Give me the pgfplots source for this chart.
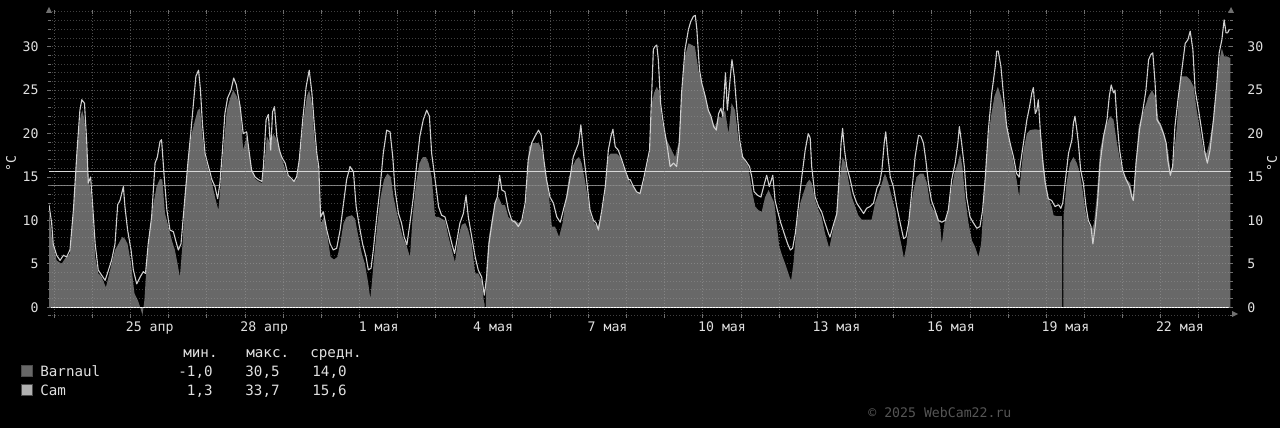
\documentclass[border=0pt]{standalone}
\usepackage{fontspec}
\setmainfont{DejaVu Sans Mono}
\usepackage{pgfplots}
\usepackage{pgfplotstable}
\pgfplotsset{compat=1.18}
\definecolor{areac}{HTML}{686868}
\definecolor{camc}{HTML}{D0D0D0}
\definecolor{gridc}{HTML}{A0A0A0}
\definecolor{txtc}{HTML}{E0E0E0}
\definecolor{tickc}{HTML}{707070}
\definecolor{avgcam}{HTML}{D8D8D8}
\definecolor{avgbar}{HTML}{7C7C7C}
\definecolor{wmc}{HTML}{555555}

\pgfplotstableread{
x y
-0.14 11.8
-0.07 9.7
-0.03 7.3
0.06 6.0
0.15 5.4
0.24 6.0
0.32 5.8
0.41 6.6
0.50 11.2
0.59 17.7
0.67 22.7
0.72 23.9
0.79 23.5
0.85 18.9
0.89 14.3
0.95 15.0
1.00 12.0
1.07 7.3
1.15 4.3
1.24 3.7
1.33 3.1
1.42 4.3
1.50 5.4
1.59 7.3
1.66 11.8
1.72 12.3
1.81 13.9
1.85 11.6
1.92 8.9
2.01 6.6
2.07 4.3
2.16 2.7
2.25 3.5
2.33 4.1
2.39 3.9
2.46 7.3
2.55 10.4
2.64 16.6
2.70 17.3
2.77 19.1
2.81 19.3
2.88 15.0
2.95 11.2
3.03 8.9
3.12 8.7
3.18 7.7
3.25 6.6
3.32 7.3
3.41 12.0
3.50 16.6
3.57 19.8
3.63 22.7
3.71 26.6
3.78 27.3
3.83 25.0
3.88 21.2
3.95 17.7
4.04 16.2
4.13 14.7
4.21 13.9
4.28 12.5
4.34 14.3
4.40 17.7
4.47 22.3
4.54 24.1
4.63 25.0
4.70 26.4
4.77 25.6
4.87 23.1
4.95 20.0
5.04 20.2
5.10 18.1
5.17 15.8
5.26 15.0
5.35 14.7
5.44 14.5
5.48 16.2
5.55 21.6
5.61 22.2
5.67 18.1
5.72 22.5
5.77 23.1
5.83 19.7
5.90 18.1
5.96 17.3
6.05 16.6
6.13 15.2
6.22 14.8
6.28 14.5
6.35 15.0
6.42 17.0
6.51 21.6
6.60 25.4
6.68 27.3
6.75 24.7
6.81 21.2
6.88 17.7
6.93 16.2
6.98 10.4
7.05 11.0
7.14 8.9
7.23 7.3
7.31 6.6
7.40 6.8
7.49 8.9
7.58 12.0
7.66 14.7
7.75 16.2
7.84 15.6
7.91 11.6
7.98 9.7
8.08 7.3
8.17 5.8
8.23 4.3
8.30 4.5
8.36 6.6
8.45 10.4
8.54 13.9
8.62 17.7
8.71 20.4
8.80 20.2
8.87 17.3
8.93 13.5
9.02 10.8
9.10 9.7
9.17 8.1
9.24 7.2
9.32 9.7
9.41 12.7
9.50 16.6
9.58 19.7
9.67 21.6
9.76 22.7
9.83 22.0
9.89 17.7
9.98 14.7
10.07 11.6
10.15 10.6
10.24 10.4
10.33 8.9
10.42 7.3
10.49 6.2
10.55 7.7
10.63 9.7
10.72 10.8
10.79 12.9
10.85 10.4
10.94 8.1
11.03 5.8
11.11 4.3
11.20 3.5
11.27 1.4
11.33 3.5
11.39 7.3
11.47 9.7
11.55 12.0
11.61 12.7
11.67 15.2
11.73 13.5
11.81 13.3
11.90 11.2
11.99 10.0
12.08 9.8
12.16 9.3
12.25 10.0
12.34 12.0
12.42 17.0
12.51 18.9
12.60 19.7
12.69 20.4
12.76 19.8
12.82 17.3
12.90 14.7
12.99 12.7
13.08 12.0
13.17 10.4
13.26 9.8
13.34 11.2
13.43 12.7
13.52 15.0
13.60 17.3
13.67 18.1
13.74 18.9
13.80 21.0
13.87 17.7
13.96 14.3
14.04 11.2
14.13 10.0
14.20 9.7
14.26 8.9
14.35 11.2
14.44 13.9
14.52 18.1
14.59 19.7
14.64 20.5
14.70 18.5
14.78 18.1
14.87 17.0
14.96 15.8
15.05 14.7
15.09 14.7
15.18 13.9
15.26 13.3
15.35 13.1
15.44 14.7
15.53 16.6
15.60 18.1
15.64 22.7
15.70 29.7
15.74 30.0
15.79 30.2
15.83 28.5
15.89 23.5
15.96 21.2
16.05 18.9
16.14 16.2
16.23 16.6
16.31 16.2
16.38 18.9
16.44 24.7
16.53 29.7
16.62 32.0
16.68 32.9
16.75 33.5
16.80 33.6
16.84 32.0
16.91 27.3
16.97 25.8
17.06 24.3
17.14 22.7
17.21 22.0
17.28 20.8
17.35 20.4
17.41 22.3
17.47 22.9
17.52 22.0
17.59 27.0
17.64 22.7
17.71 26.2
17.76 28.5
17.82 26.6
17.89 22.7
17.96 19.3
18.04 17.3
18.13 16.8
18.22 16.2
18.28 15.0
18.34 13.3
18.43 12.9
18.52 12.7
18.59 13.9
18.67 15.2
18.74 13.9
18.83 15.2
18.89 12.3
18.95 11.2
19.04 9.7
19.13 8.5
19.22 7.3
19.29 6.6
19.35 6.8
19.42 8.5
19.50 11.6
19.59 15.0
19.68 18.1
19.76 20.0
19.81 19.5
19.85 16.2
19.94 12.7
20.03 11.6
20.11 11.0
20.20 9.7
20.29 8.5
20.33 8.1
20.42 9.5
20.51 10.8
20.57 15.0
20.62 18.9
20.66 20.6
20.71 18.1
20.77 16.2
20.86 14.7
20.94 13.1
21.03 12.0
21.12 11.4
21.21 10.8
21.29 11.4
21.38 11.6
21.47 12.0
21.56 13.7
21.63 14.3
21.69 15.8
21.75 18.9
21.79 20.2
21.85 17.3
21.91 15.0
21.99 13.9
22.08 11.6
22.17 9.7
22.26 7.9
22.32 8.1
22.39 9.7
22.47 13.1
22.56 17.3
22.65 19.8
22.71 19.7
22.78 18.9
22.84 17.0
22.91 14.3
22.99 12.3
23.08 11.2
23.17 10.0
23.26 9.8
23.35 10.0
23.43 11.2
23.52 14.7
23.61 16.6
23.68 18.9
23.72 20.8
23.78 18.9
23.85 16.2
23.91 12.7
24.00 10.4
24.09 9.7
24.18 9.1
24.26 9.3
24.33 11.2
24.40 15.0
24.48 20.4
24.57 24.7
24.66 27.7
24.70 29.5
24.74 29.5
24.81 27.7
24.88 24.3
24.96 20.8
25.05 18.9
25.14 17.3
25.22 15.4
25.29 15.0
25.31 16.2
25.40 18.9
25.49 21.6
25.56 23.1
25.62 24.7
25.66 25.3
25.71 22.3
25.75 22.7
25.79 23.9
25.84 20.4
25.91 16.6
25.97 14.3
26.05 12.5
26.14 12.3
26.23 11.6
26.32 11.8
26.38 11.4
26.43 12.0
26.49 14.3
26.58 17.7
26.67 19.3
26.71 21.2
26.75 22.0
26.80 20.4
26.84 18.9
26.90 15.8
26.97 14.3
27.04 11.6
27.10 10.0
27.17 9.3
27.22 7.3
27.28 9.3
27.34 12.0
27.41 16.6
27.50 19.7
27.59 21.6
27.65 24.3
27.70 25.6
27.76 24.7
27.80 25.0
27.85 21.6
27.92 18.1
28.00 15.8
28.09 14.7
28.18 13.9
28.24 12.7
28.28 12.3
28.35 16.6
28.44 20.4
28.53 22.7
28.61 25.0
28.68 28.5
28.74 29.1
28.79 29.3
28.85 25.8
28.90 21.6
28.98 21.0
29.07 20.0
29.14 18.9
29.18 17.0
29.25 15.2
29.31 16.2
29.37 20.8
29.46 24.3
29.55 27.3
29.64 30.4
29.71 30.8
29.77 31.8
29.84 29.7
29.90 25.0
29.99 22.7
30.07 20.4
30.16 17.7
30.22 16.6
30.29 18.1
30.38 21.6
30.46 25.4
30.53 29.3
30.60 30.8
30.66 33.1
30.71 31.6
30.75 31.6
30.80 32.0
}\camtable

\pgfplotstableread{
x y
-0.14 11.2
-0.07 8.1
0.06 5.4
0.19 5.0
0.28 5.6
0.41 6.2
0.50 10.8
0.59 17.3
0.67 21.6
0.73 22.7
0.79 21.6
0.85 18.1
0.89 15.0
0.95 13.5
1.00 11.2
1.07 5.8
1.15 3.9
1.24 3.5
1.35 2.3
1.42 3.5
1.50 5.0
1.59 6.6
1.68 7.3
1.78 8.1
1.85 7.9
1.92 7.3
2.01 5.0
2.10 1.6
2.19 0.8
2.25 0.0
2.31 -0.9
2.36 0.8
2.42 5.0
2.51 8.9
2.60 12.0
2.68 13.9
2.77 14.8
2.83 14.7
2.90 10.8
2.99 9.3
3.08 7.7
3.16 6.6
3.23 5.0
3.29 3.5
3.36 7.3
3.43 13.1
3.51 17.3
3.60 20.0
3.69 21.6
3.76 22.7
3.82 22.9
3.88 19.7
3.95 17.3
4.04 15.8
4.13 14.3
4.21 12.7
4.30 11.2
4.37 14.7
4.43 18.1
4.52 22.7
4.61 24.1
4.69 25.0
4.78 24.3
4.87 23.1
4.95 18.1
5.04 19.7
5.10 18.1
5.17 15.8
5.26 14.8
5.35 14.5
5.44 14.3
5.50 16.2
5.57 19.7
5.65 18.9
5.74 20.0
5.83 19.3
5.92 17.7
6.00 16.6
6.09 15.4
6.18 14.8
6.27 14.5
6.35 14.7
6.44 17.3
6.53 21.6
6.62 24.3
6.68 25.0
6.75 23.5
6.81 19.7
6.89 17.0
6.95 14.3
6.99 9.7
7.07 10.4
7.16 8.1
7.24 5.8
7.33 5.5
7.42 5.8
7.49 7.3
7.58 9.7
7.66 10.4
7.80 10.6
7.88 10.2
7.97 8.1
8.06 6.2
8.14 5.0
8.23 2.7
8.28 1.0
8.32 2.7
8.38 5.8
8.47 9.7
8.55 12.7
8.64 14.7
8.73 15.4
8.82 15.0
8.89 12.7
8.96 11.2
9.04 9.7
9.13 8.1
9.24 7.0
9.32 5.8
9.39 10.4
9.48 14.3
9.57 16.6
9.66 17.3
9.74 17.3
9.81 16.6
9.89 15.0
9.98 10.4
10.07 10.4
10.15 10.2
10.24 10.0
10.33 8.1
10.42 6.6
10.50 5.2
10.59 8.1
10.68 9.5
10.77 9.7
10.85 8.9
10.94 7.3
11.03 3.9
11.11 3.9
11.20 3.1
11.26 0.6
11.275 0.4
11.277 0.0
11.31 0.0
11.312 3.0
11.33 5.0
11.39 8.1
11.46 10.0
11.55 12.0
11.64 12.7
11.73 11.8
11.81 11.8
11.90 10.4
11.99 10.0
12.08 10.0
12.16 9.7
12.27 10.0
12.36 12.0
12.44 18.5
12.53 18.9
12.62 18.9
12.70 18.9
12.78 18.1
12.86 15.8
12.95 13.5
13.04 9.3
13.12 9.3
13.23 8.1
13.32 9.7
13.40 12.3
13.49 15.0
13.58 16.2
13.67 17.0
13.75 17.3
13.82 16.6
13.89 15.0
13.98 12.7
14.07 10.4
14.15 9.7
14.24 9.3
14.33 10.4
14.42 12.7
14.51 17.3
14.58 17.7
14.65 17.7
14.74 17.7
14.83 17.3
14.91 16.2
15.00 15.4
15.09 14.3
15.18 13.9
15.26 13.3
15.35 13.1
15.44 14.3
15.53 16.2
15.60 17.7
15.66 23.5
15.72 24.7
15.79 25.4
15.86 24.7
15.92 21.6
16.01 19.7
16.09 18.9
16.18 18.1
16.27 17.3
16.36 18.9
16.44 24.3
16.53 28.9
16.62 30.4
16.71 30.2
16.79 30.0
16.88 27.3
16.97 25.8
17.06 24.3
17.14 22.7
17.23 21.6
17.32 20.8
17.41 22.0
17.49 21.8
17.58 22.7
17.67 20.0
17.75 23.5
17.84 22.7
17.93 19.3
18.02 17.7
18.10 16.8
18.19 16.2
18.28 13.5
18.37 11.6
18.45 11.2
18.54 11.0
18.63 12.7
18.72 13.5
18.80 12.7
18.87 12.0
18.93 9.7
19.00 7.0
19.09 5.8
19.18 4.7
19.27 3.5
19.31 3.1
19.37 5.0
19.46 9.7
19.55 12.0
19.63 13.1
19.72 14.3
19.79 14.7
19.85 14.3
19.94 12.3
20.03 11.2
20.11 10.4
20.20 8.5
20.31 6.8
20.39 8.5
20.48 10.4
20.57 14.3
20.66 17.3
20.73 16.6
20.81 14.7
20.90 12.7
20.99 11.6
21.07 10.6
21.16 10.1
21.29 10.1
21.42 10.1
21.51 12.0
21.60 13.1
21.69 14.3
21.77 15.4
21.86 14.3
21.95 12.7
22.04 11.2
22.12 8.9
22.21 7.0
22.27 5.6
22.34 7.3
22.43 11.2
22.52 13.5
22.60 15.0
22.69 15.4
22.78 15.4
22.87 14.3
22.95 12.0
23.04 11.2
23.13 10.8
23.22 9.3
23.26 7.3
23.33 9.7
23.42 10.8
23.51 13.5
23.59 15.4
23.68 16.6
23.74 17.7
23.80 16.2
23.87 12.7
23.96 9.7
24.05 7.7
24.13 7.0
24.22 5.8
24.29 7.3
24.38 13.5
24.46 18.9
24.55 22.0
24.64 24.3
24.73 25.4
24.81 24.3
24.90 22.7
24.99 20.4
25.08 18.1
25.16 16.2
25.22 14.7
25.29 12.7
25.31 14.3
25.40 18.1
25.49 20.0
25.57 20.4
25.71 20.5
25.84 20.4
25.91 17.3
25.99 14.3
26.05 12.7
26.14 11.6
26.19 10.6
26.27 10.5
26.41 10.5
26.412 0.0
26.448 0.0
26.45 10.6
26.46 10.8
26.53 14.3
26.62 16.6
26.71 17.3
26.80 16.6
26.88 15.4
26.95 13.5
27.02 11.2
27.10 9.7
27.19 8.9
27.25 9.7
27.32 12.7
27.41 18.1
27.50 20.0
27.59 21.2
27.67 22.0
27.76 21.6
27.85 18.9
27.93 17.0
28.02 15.4
28.11 14.7
28.20 14.3
28.27 12.7
28.33 15.8
28.42 20.8
28.50 22.0
28.59 23.1
28.68 24.3
28.77 25.0
28.85 24.3
28.94 21.6
29.03 20.8
29.11 19.7
29.20 17.7
29.26 15.4
29.33 17.0
29.42 20.8
29.51 26.6
29.59 26.6
29.68 26.6
29.77 26.2
29.86 25.4
29.94 22.7
30.03 20.4
30.12 18.1
30.20 17.7
30.27 18.9
30.36 21.2
30.45 25.0
30.54 28.5
30.60 29.8
30.66 28.9
30.73 28.9
30.82 28.7
}\bartable

\newcommand{\tickfont}{\fontsize{6.6pt}{7pt}\selectfont}
\newcommand{\legfont}{\fontsize{7.1pt}{8pt}\selectfont}

\pgfplotsset{rrdbase/.style={
  at={(24.5pt,56pt)}, anchor=south west,
  scale only axis, width=591pt, height=152pt,
  xmin=-0.14, xmax=30.84, ymin=-1, ymax=34,
  axis line style={draw=none},
  /pgf/number format/assume math mode=true,
}}

\begin{document}
\begin{tikzpicture}
\fill[black] (0pt,0pt) rectangle (640pt,214pt);
\useasboundingbox (0pt,0pt) rectangle (640pt,214pt);

\begin{axis}[
  rrdbase,
  axis on top,
  xtick={0,1,...,30}, xticklabels={},
  extra x ticks={2.5,5.5,8.5,11.5,14.5,17.5,20.5,23.5,26.5,29.5},
  extra x tick labels={25 апр,28 апр,1 мая,4 мая,7 мая,10 мая,13 мая,16 мая,19 мая,22 мая},
  extra x tick style={major tick length=0pt, xmajorgrids=false,
     xticklabel style={font=\tickfont, text=txtc, anchor=north, inner sep=0pt, yshift=-2.8pt}},
  ytick={0,5,...,30},
  minor ytick={-1,1,2,3,4,6,7,8,9,11,12,13,14,16,17,18,19,21,22,23,24,26,27,28,29,31,32,33,34},
  xmajorgrids, ymajorgrids, yminorgrids,
  major grid style={draw=gridc, draw opacity=0.5, line width=0.5pt, dash pattern=on 0.5pt off 1pt},
  minor grid style={draw=gridc, draw opacity=0.4, line width=0.5pt, dash pattern=on 0.5pt off 1pt},
  tick style={draw=tickc, line width=0.5pt},
  major tick length=2pt, minor tick length=1.5pt,
  tick align=center,
  yticklabel style={font=\tickfont, text=txtc, anchor=east, inner sep=0pt, xshift=-4pt},
]
\addplot[fill=areac, draw=none] table[x=x,y=y] {\bartable} \closedcycle;
\addplot[draw=white, line width=0.8pt] coordinates {(-0.14,0) (30.84,0)};
\addplot[draw=avgbar, line width=0.6pt] coordinates {(-0.14,14.0) (30.84,14.0)};
\addplot[draw=avgcam, line width=0.6pt] coordinates {(-0.14,15.6) (30.84,15.6)};
\addplot[draw=camc, line width=0.55pt, line join=round] table[x=x,y=y] {\camtable};
\end{axis}

\begin{axis}[
  rrdbase,
  xtick=\empty,
  ytick={0,5,...,30},
  yticklabel pos=right,
  tick style={draw=none},
  yticklabel style={font=\tickfont, text=txtc, anchor=west, inner sep=0pt, xshift=8pt},
]
\addplot[draw=none] coordinates {(0,0)};
\end{axis}

% axis arrows
\fill[tickc] (23pt,207.5pt) -- (26pt,207.5pt) -- (24.5pt,210.5pt) -- cycle;
\fill[tickc] (614pt,207.5pt) -- (617pt,207.5pt) -- (615.5pt,210.5pt) -- cycle;
\fill[tickc] (616pt,58.5pt) -- (616pt,55.5pt) -- (619pt,57pt) -- cycle;

% unit labels
\node[rotate=90, font=\tickfont, text=txtc] at (5.5pt,132pt) {°C};
\node[rotate=90, font=\tickfont, text=txtc] at (636pt,132pt) {°C};

% legend
\node[anchor=base west, inner sep=0pt, font=\legfont, text=txtc] at (91.5pt,35pt) {мин.};
\node[anchor=base west, inner sep=0pt, font=\legfont, text=txtc] at (123pt,35pt) {макс.};
\node[anchor=base west, inner sep=0pt, font=\legfont, text=txtc] at (155pt,35pt) {средн.};

\filldraw[fill=areac, draw=black!70!white, line width=0.5pt] (10.5pt,25.5pt) rectangle (16pt,31pt);
\node[anchor=base west, inner sep=0pt, font=\legfont, text=txtc] at (20pt,25.75pt) {Barnaul};
\node[anchor=base east, inner sep=0pt, font=\legfont, text=txtc] at (106.5pt,25.75pt) {-1,0};
\node[anchor=base east, inner sep=0pt, font=\legfont, text=txtc] at (140pt,25.75pt) {30,5};
\node[anchor=base east, inner sep=0pt, font=\legfont, text=txtc] at (173.5pt,25.75pt) {14,0};

\filldraw[fill=camc!85!black, draw=black!70!white, line width=0.5pt] (10.5pt,16pt) rectangle (16pt,21.5pt);
\node[anchor=base west, inner sep=0pt, font=\legfont, text=txtc] at (20pt,16.25pt) {Cam};
\node[anchor=base east, inner sep=0pt, font=\legfont, text=txtc] at (106.5pt,16.25pt) {1,3};
\node[anchor=base east, inner sep=0pt, font=\legfont, text=txtc] at (140pt,16.25pt) {33,7};
\node[anchor=base east, inner sep=0pt, font=\legfont, text=txtc] at (173.5pt,16.25pt) {15,6};

\node[anchor=base west, inner sep=0pt, font=\tickfont, text=wmc] at (434pt,5pt) {© 2025 WebCam22.ru};
\end{tikzpicture}
\end{document}
